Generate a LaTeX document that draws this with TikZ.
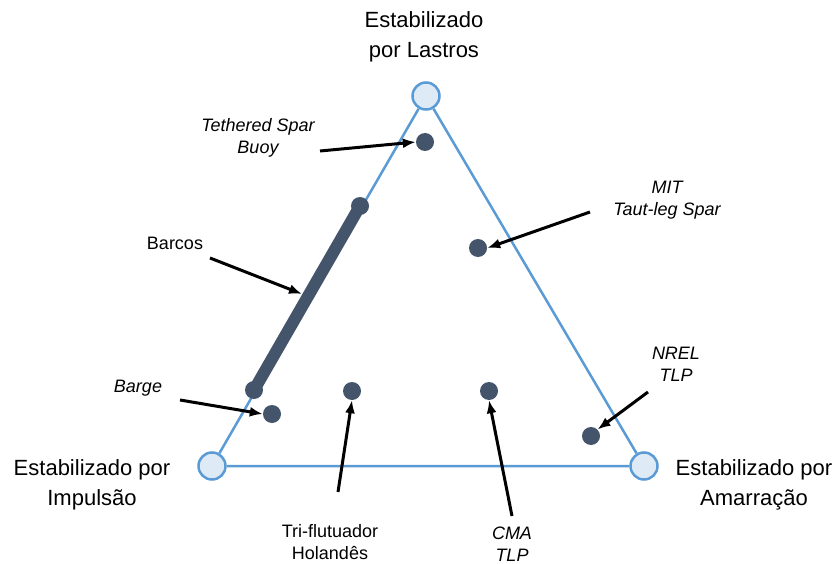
\documentclass[tikz,border=0pt]{standalone}
\usepackage{fontspec}
\setmainfont{Liberation Sans}
\usetikzlibrary{arrows.meta}
\definecolor{edgeblue}{RGB}{91,155,213}
\definecolor{vertfill}{RGB}{222,235,247}
\definecolor{dotgray}{RGB}{68,84,106}
\begin{document}
\begin{tikzpicture}[x=1pt,y=-1pt]
\tikzstyle{vert} = [circle, draw=edgeblue, fill=vertfill, line width=2.5pt, minimum size=27pt, inner sep=0pt]
\tikzstyle{dot} = [circle, fill=dotgray, minimum size=18pt, inner sep=0pt]
\tikzstyle{big} = [align=center, font=\fontsize{22}{30}\selectfont]
\tikzstyle{lbl} = [align=center, font=\fontsize{18}{22}\selectfont]
\tikzstyle{ptr} = [-{Latex[length=13pt,width=10pt]}, line width=3pt]
\useasboundingbox (0,0) rectangle (835,564);
% vertices of the triangle
\node [vert] (top) at (426,96) {};
\node [vert] (left) at (212,466) {};
\node [vert] (right) at (644,466) {};
\draw [edgeblue, line width=2.5pt] (top) -- (left) -- (right) -- (top);
% platforms
\node [dot] (tsb) at (425,142) {};
\node [dot] (mit) at (478,248) {};
\node [dot] (shipA) at (360,206) {};
\node [dot] (shipB) at (254,390) {};
\node [dot] (barge) at (272,414) {};
\node [dot] (dutch) at (352,391) {};
\node [dot] (cma) at (489,391) {};
\node [dot] (nrel) at (591,436) {};
\draw [dotgray, line width=12pt] (shipA.center) -- (shipB.center);
\coordinate (bar) at (302,294);
% labels
\node [big] (lastro) at (424,37) {Estabilizado\\por Lastros};
\node [big] (impul) at (92,485) {Estabilizado por\\Impuls\~ao};
\node [big] (amarr) at (754,485) {Estabilizado por\\Amarra\c c\~ao};
\node [lbl] (ltsb) at (258,138) {\itshape Tethered Spar\\\itshape Buoy};
\node [lbl] (lmit) at (667,200) {\itshape MIT\\\itshape Taut-leg Spar};
\node [lbl] (lship) at (175,243) {Barcos};
\node [lbl] (lbarge) at (138,388) {\itshape Barge};
\node [lbl] (lnrel) at (676,364) {\itshape NREL\\\itshape TLP};
\node [lbl] (ldutch) at (330,542) {Tri-flutuador\\Holand\^es};
\node [lbl] (lcma) at (512,544) {\itshape CMA\\\itshape TLP};
% pointers
\coordinate (ptsb) at (320,151);
\coordinate (pmit) at (590,212);
\coordinate (pship) at (210,258);
\coordinate (pbarge) at (180,400);
\coordinate (pnrel) at (648,392);
\coordinate (pdutch) at (338,492);
\coordinate (pcma) at (512,516);
\draw [ptr] (ptsb) -- (tsb.west);
\draw [ptr] (pmit) -- (mit.east);
\draw [ptr] (pship) -- (bar);
\draw [ptr] (pbarge) -- (barge.west);
\draw [ptr] (pnrel) -- (nrel.north east);
\draw [ptr] (pdutch) -- (dutch.south);
\draw [ptr] (pcma) -- (cma.south);
\end{tikzpicture}
\end{document}
